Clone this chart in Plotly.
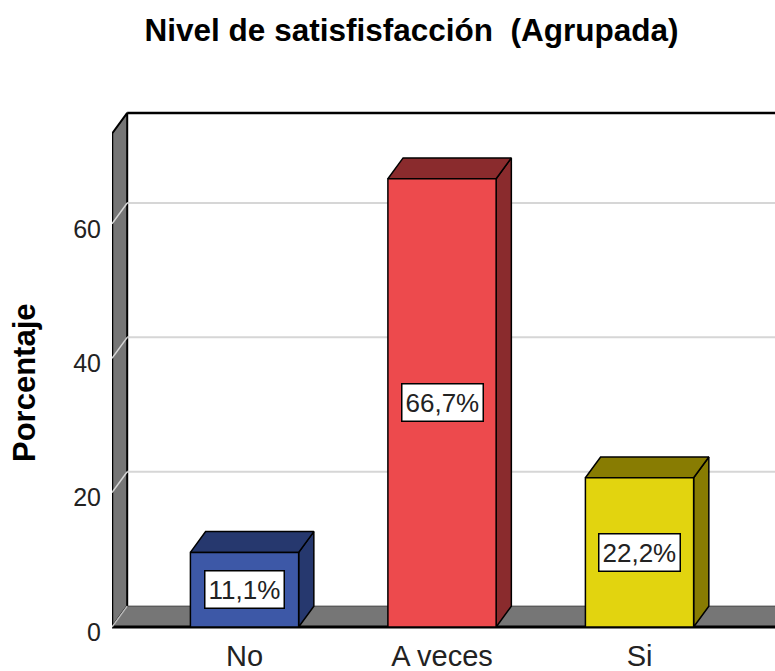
import plotly.graph_objects as go

# ---- data ----
categories = ["No", "A veces", "Si"]
values = [11.1, 66.7, 22.2]
value_labels = ["11,1%", "66,7%", "22,2%"]
y_ticks = [0, 20, 40, 60]
title_text = "Nivel de satisfisfacción\u00a0 (Agrupada)"
y_title = "Porcentaje"

# ---- styling ----
front_colors = ["#3D58A7", "#ED4A4D", "#E2D40F"]
dark_colors = ["#26386E", "#8A2B2D", "#887C02"]
wall_color = "#767676"
grid_color = "#D6D6D6"
FONT = "Arial, 'Liberation Sans', sans-serif"

dx, dy = 0.077, 3.1     # 3-D depth offset in axis units
bw = 0.548              # bar width (category units)
x0, xR = -0.671, 3.2    # left wall front x, far right
yT = 76.5               # top of back plane

fig = go.Figure()

def poly(xs, ys, fill, line_color="black", lw=1.5):
    fig.add_trace(go.Scatter(x=xs + [xs[0]], y=ys + [ys[0]], mode="lines",
                             fill="toself", fillcolor=fill,
                             line=dict(color=line_color, width=lw),
                             hoverinfo="skip", showlegend=False))

def seg(xs, ys, color, lw):
    fig.add_trace(go.Scatter(x=xs, y=ys, mode="lines",
                             line=dict(color=color, width=lw),
                             hoverinfo="skip", showlegend=False))

# left wall and floor
poly([x0, x0, x0 + dx, x0 + dx], [0, yT - dy, yT, dy], wall_color, "black", 2)
poly([x0, xR, xR + dx, x0 + dx], [0, 0, dy, dy], wall_color, "#3a3a3a", 1)
# back plane top edge
seg([x0 + dx, xR + dx], [yT, yT], "black", 2.5)
# front floor edge
seg([x0, xR], [0, 0], "black", 3)
# left wall front edge
seg([x0, x0], [0, yT - dy], "black", 2.5)

# gridlines (back plane + across left wall)
for g in y_ticks:
    if g > 0:
        seg([x0 + dx, xR + dx], [g + dy, g + dy], grid_color, 2)
    seg([x0, x0 + dx], [g, g + dy], grid_color if g > 0 else "#bdbdbd", 1.5)

# bars
for i, v in enumerate(values):
    xl, xr = i - bw / 2, i + bw / 2
    poly([xr, xr + dx, xr + dx, xr], [0, dy, v + dy, v], dark_colors[i])
    poly([xl, xl + dx, xr + dx, xr], [v, v + dy, v + dy, v], dark_colors[i])
    poly([xl, xl, xr, xr], [0, v, v, 0], front_colors[i])
    fig.add_annotation(x=i, y=v / 2, xref="x", yref="y", text=value_labels[i],
                       showarrow=False, bgcolor="white", bordercolor="black",
                       borderwidth=1.5, borderpad=3,
                       font=dict(family=FONT, size=26, color="#222"))

fig.add_annotation(xref="paper", yref="paper", x=0, xshift=-88, y=0.466,
                   xanchor="center", yanchor="middle",
                   text=f"<b>{y_title}</b>", textangle=-90, showarrow=False,
                   font=dict(family=FONT, size=31, color="black"))

fig.update_layout(
    width=775, height=671,
    margin=dict(l=112, r=0, t=100, b=41, autoexpand=False),
    paper_bgcolor="white", plot_bgcolor="white",
    showlegend=False, hovermode=False,
    title=dict(text=f"<b>{title_text}</b>", x=0.531, xanchor="center",
               y=1 - 30 / 671, yanchor="middle",
               font=dict(family=FONT, size=31.5, color="black")),
    xaxis=dict(range=[-0.671, 2.686], tickvals=list(range(len(categories))),
               ticktext=categories, showgrid=False, zeroline=False,
               showline=False, ticks="", ticklabelstandoff=6, automargin=False,
               tickfont=dict(family=FONT, size=29, color="#222")),
    yaxis=dict(range=[-0.446, 78.42], tickvals=y_ticks, showgrid=False,
               zeroline=False, showline=False, ticks="", automargin=False,
               ticklabelstandoff=10, ticklabelshift=5,
               tickfont=dict(family=FONT, size=25, color="#222")),
)

fig.write_html("out.html", config={"displayModeBar": False},
               post_script="document.body.style.margin='0px';document.body.style.overflow='hidden';")
